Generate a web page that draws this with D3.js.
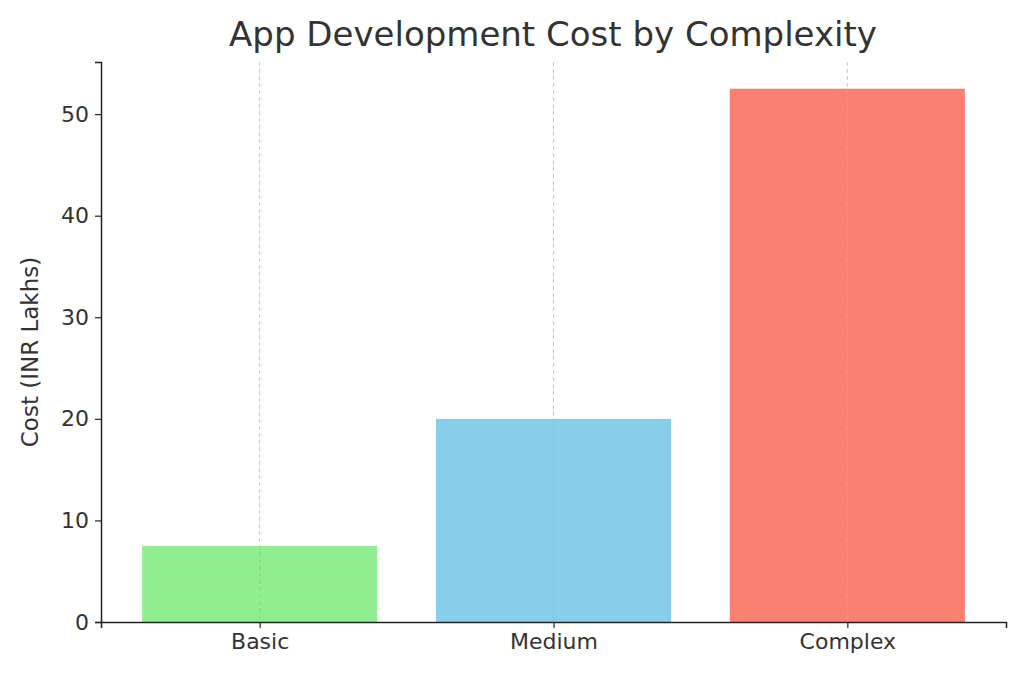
<!DOCTYPE html>
<html><head><meta charset="utf-8">
<script src="https://cdn.jsdelivr.net/npm/d3@7"></script>
<style>body{margin:0;background:#fff}svg{display:block}text{font-family:"DejaVu Sans",sans-serif;fill:#333}</style>
</head><body><svg id="c" width="1024" height="677"></svg>
<script>
const categories = ["Basic","Medium","Complex"];
const values = [7.5,20,52.5];
const colors = ["#90EE90","#87CEEB","#FA8072"];
const yTicks = [0,10,20,30,40,50];

const svg = d3.select("#c");
const L=101, R=1006, T=62, B=622;
const step=(R-L)/3.08;
const x = d3.scaleLinear().domain([-0.54,2.54]).range([L,R]);
const y = d3.scaleLinear().domain([0,55.13]).range([B,T]);
const bw = 0.8*step;

svg.selectAll("rect.bar").data(values).join("rect").attr("class","bar")
  .attr("x",(d,i)=>x(i)-bw/2).attr("width",bw)
  .attr("y",d=>y(d)).attr("height",d=>B-y(d))
  .attr("fill",(d,i)=>colors[i]);

svg.selectAll("line.grid").data(categories).join("line").attr("class","grid")
  .attr("x1",(d,i)=>x(i)).attr("x2",(d,i)=>x(i)).attr("y1",T).attr("y2",B)
  .attr("stroke","#b0b0b0").attr("stroke-opacity",0.7).attr("stroke-dasharray","4,3").attr("stroke-width",1);

const ya = svg.append("g").attr("transform",`translate(${L},0)`)
  .call(d3.axisLeft(y).tickValues(yTicks).tickSize(6).tickPadding(6));
const xa = svg.append("g").attr("transform",`translate(0,${B})`)
  .call(d3.axisBottom(x).tickValues([0,1,2]).tickFormat(i=>categories[i]).tickSize(6).tickPadding(5));
[ya,xa].forEach(g=>{
  g.select(".domain").attr("stroke","#222").attr("stroke-width",1.5);
  g.selectAll(".tick line").attr("stroke","#222").attr("stroke-width",1.2);
  g.selectAll(".tick text").attr("font-size",22).attr("fill","#333").style("font-family","DejaVu Sans");
});
svg.append("text").attr("x",553).attr("y",46).attr("text-anchor","middle").attr("font-size",34).text("App Development Cost by Complexity");
svg.append("text").attr("transform",`translate(38,${(T+B)/2+10}) rotate(-90)`).attr("text-anchor","middle").attr("font-size",23).text("Cost (INR Lakhs)");
</script></body></html>
